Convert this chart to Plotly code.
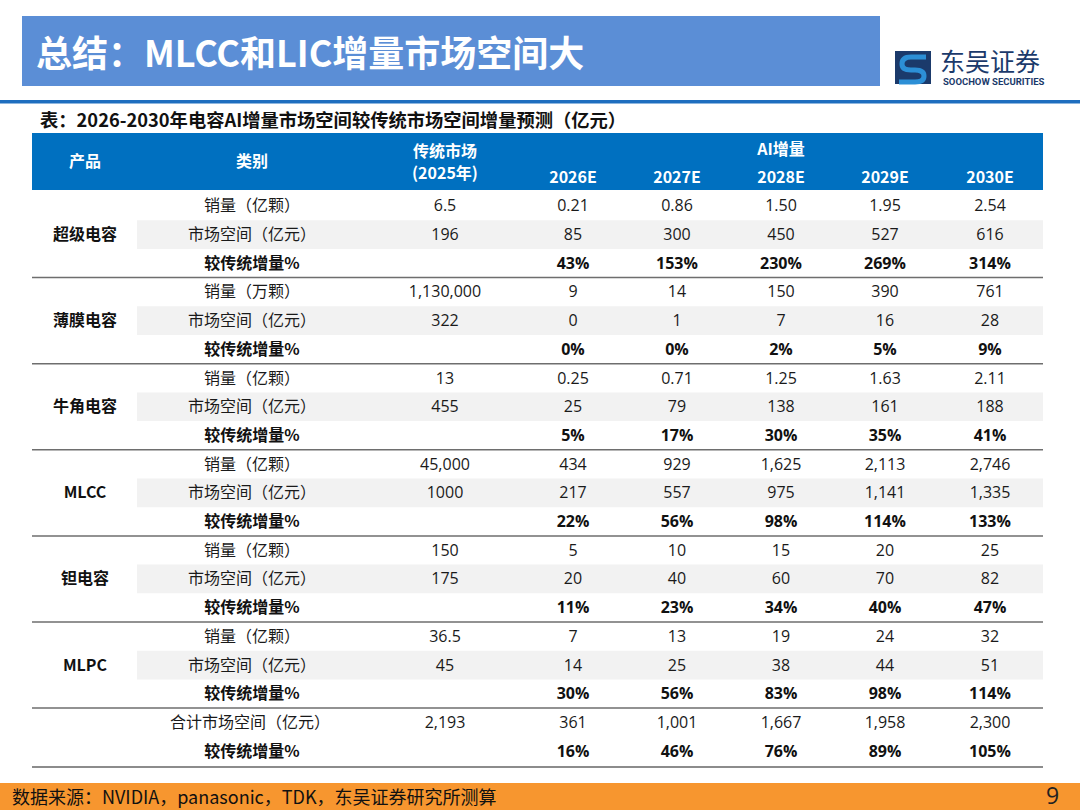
import plotly.graph_objects as go

# 表格数据
products = ['超级电容', '薄膜电容', '牛角电容', 'MLCC', '钽电容', 'MLPC']
volume_units = ['亿颗', '万颗', '亿颗', '亿颗', '亿颗', '亿颗']
base_volume = ['6.5', '1,130,000', '13', '45,000', '150', '36.5']
base_market = ['196', '322', '455', '1000', '175', '45']
years = ['2026E', '2027E', '2028E', '2029E', '2030E']

ai_volume = [
    [0.21, 0.86, 1.50, 1.95, 2.54],
    [9, 14, 150, 390, 761],
    [0.25, 0.71, 1.25, 1.63, 2.11],
    [434, 929, 1625, 2113, 2746],
    [5, 10, 15, 20, 25],
    [7, 13, 19, 24, 32],
]
ai_market = [
    [85, 300, 450, 527, 616],
    [0, 1, 7, 16, 28],
    [25, 79, 138, 161, 188],
    [217, 557, 975, 1141, 1335],
    [20, 40, 60, 70, 82],
    [14, 25, 38, 44, 51],
]
growth_pct = [
    [43, 153, 230, 269, 314],
    [0, 0, 2, 5, 9],
    [5, 17, 30, 35, 41],
    [22, 56, 98, 114, 133],
    [11, 23, 34, 40, 47],
    [30, 56, 83, 98, 114],
]
total_base = '2,193'
total_ai = [361, 1001, 1667, 1958, 2300]
total_growth = [16, 46, 76, 89, 105]

# layout helpers
W, H = 1080, 810
col_x = [85, 252, 445, 573, 677, 781, 885, 990]
tbl_left, tbl_right = 32, 1043
row_top, row_h = 191.5, 28.7
HEAD_BLUE = '#0070C0'
CJK = 'Noto Sans CJK SC'
NUM = 'Open Sans, Noto Sans CJK SC'


def row_y(i):
    return row_top + row_h * (i + 0.5)


def text_y(i):
    # text baseline sits a touch high in plotly, nudge down
    return row_y(i) + 1.5


fig = go.Figure()
shapes = []

# title bar, top rule, footer
shapes.append(dict(type='rect', x0=22, x1=880, y0=16, y1=86, fillcolor='#5B8ED6', line_width=0, layer='below'))
shapes.append(dict(type='rect', x0=0, x1=W, y0=100, y1=103.5, fillcolor='#1F6EBF', line_width=0, layer='below'))
shapes.append(dict(type='rect', x0=0, x1=W, y0=783, y1=H, fillcolor='#F7962F', line_width=0, layer='below'))
shapes.append(dict(type='rect', x0=tbl_left, x1=tbl_right, y0=133, y1=190, fillcolor=HEAD_BLUE, line_width=0, layer='below'))

# logo
shapes.append(dict(type='rect', x0=895, x1=931, y0=51, y1=84, fillcolor='#1B3A6B', line_width=0))
shapes.append(dict(type='path', path='M 926 57 L 911 57 Q 902 57 902 64 Q 902 70 911 70 L 915 70 Q 924 70 924 76 Q 924 82 915 82 L 899 82',
                   line=dict(color='#2C8FD6', width=5), fillcolor='rgba(0,0,0,0)'))

# rows: shaded market rows and group separators
n_rows = len(products) * 3 + 2
for g in range(len(products)):
    i = g * 3 + 1
    shapes.append(dict(type='rect', x0=137, x1=tbl_right, y0=row_y(i) - row_h / 2, y1=row_y(i) + row_h / 2,
                       fillcolor='#F2F2F2', line_width=0, layer='below'))
for g in range(1, len(products) + 1):
    yy = row_top + row_h * 3 * g
    shapes.append(dict(type='line', x0=tbl_left, x1=tbl_right, y0=yy, y1=yy, line=dict(color='#6E6E6E', width=1.5)))
yy = row_top + row_h * n_rows + 1.5
shapes.append(dict(type='line', x0=tbl_left, x1=tbl_right, y0=yy, y1=yy, line=dict(color='#8C8C8C', width=2)))

# collect cell texts
reg_x, reg_y, reg_t = [], [], []
num_x, num_y, num_t = [], [], []
bold_x, bold_y, bold_t = [], [], []
bnum_x, bnum_y, bnum_t = [], [], []

for g, name in enumerate(products):
    r0 = g * 3
    bold_x.append(col_x[0]); bold_y.append(text_y(r0 + 1)); bold_t.append(name)
    reg_x += [col_x[1], col_x[1]]
    reg_y += [text_y(r0), text_y(r0 + 1)]
    reg_t += [f'销量（{volume_units[g]}）', '市场空间（亿元）']
    bold_x.append(col_x[1]); bold_y.append(text_y(r0 + 2)); bold_t.append('较传统增量%')
    num_x += [col_x[2], col_x[2]]
    num_y += [text_y(r0), text_y(r0 + 1)]
    num_t += [base_volume[g], base_market[g]]
    decimals = any(isinstance(v, float) and v < 10 for v in ai_volume[g])
    for k in range(5):
        v = ai_volume[g][k]
        num_x.append(col_x[3 + k]); num_y.append(text_y(r0))
        num_t.append(f'{v:.2f}' if decimals else f'{int(v):,}')
        num_x.append(col_x[3 + k]); num_y.append(text_y(r0 + 1))
        num_t.append(f'{ai_market[g][k]:,}')
        bnum_x.append(col_x[3 + k]); bnum_y.append(text_y(r0 + 2))
        bnum_t.append(f'{growth_pct[g][k]}%')

r0 = len(products) * 3
reg_x.append(col_x[1] - 2); reg_y.append(text_y(r0)); reg_t.append('合计市场空间（亿元）')
bold_x.append(col_x[1]); bold_y.append(text_y(r0 + 1)); bold_t.append('较传统增量%')
num_x.append(col_x[2]); num_y.append(text_y(r0)); num_t.append(total_base)
for k in range(5):
    num_x.append(col_x[3 + k]); num_y.append(text_y(r0)); num_t.append(f'{total_ai[k]:,}')
    bnum_x.append(col_x[3 + k]); bnum_y.append(text_y(r0 + 1)); bnum_t.append(f'{total_growth[k]}%')

fig.add_trace(go.Scatter(x=reg_x, y=reg_y, text=reg_t, mode='text',
                         textfont=dict(family=CJK, size=16, color='#1A1A1A')))
fig.add_trace(go.Scatter(x=num_x, y=num_y, text=num_t, mode='text',
                         textfont=dict(family=NUM, size=16, color='#1A1A1A')))
fig.add_trace(go.Scatter(x=bold_x, y=bold_y, text=bold_t, mode='text',
                         textfont=dict(family=CJK, size=16, color='#111111', weight='bold')))
fig.add_trace(go.Scatter(x=bnum_x, y=bnum_y, text=bnum_t, mode='text',
                         textfont=dict(family=NUM, size=16, color='#111111', weight='bold')))

# header texts
head_x = [col_x[0], col_x[1], col_x[2], col_x[2], col_x[5]] + col_x[3:]
head_y = [163, 163, 153, 175, 151] + [179] * 5
head_t = ['产品', '类别', '传统市场', '(2025年)', 'AI增量'] + years
fig.add_trace(go.Scatter(x=head_x, y=head_y, text=head_t, mode='text',
                         textfont=dict(family=CJK, size=16, color='white', weight='bold')))

annos = [
    dict(x=34, y=51, text='<b>总结：MLCC和LIC增量市场空间大</b>', xanchor='left', yanchor='middle',
         font=dict(family=CJK, size=36, color='white')),
    dict(x=38, y=119, text='<b>表：2026-2030年电容AI增量市场空间较传统市场空间增量预测（亿元）</b>', xanchor='left', yanchor='middle',
         font=dict(family=CJK, size=18.3, color='#111111')),
    dict(x=10, y=796, text='数据来源：NVIDIA，panasonic，TDK，东吴证券研究所测算', xanchor='left', yanchor='middle',
         font=dict(family=CJK, size=18, color='#111111')),
    dict(x=1052, y=795, text='9', xanchor='center', yanchor='middle',
         font=dict(family=NUM, size=23, color='#222222')),
    dict(x=938, y=60, text='东吴证券', xanchor='left', yanchor='middle',
         font=dict(family=CJK, size=25, color='#1B3A6B')),
    dict(x=941, y=81.5, text='<b>SOOCHOW SECURITIES</b>', xanchor='left', yanchor='middle',
         font=dict(family='Roboto', size=9.5, color='#1B3A6B')),
]
for a in annos:
    a.update(xref='x', yref='y', showarrow=False)

fig.update_layout(
    width=W, height=H, margin=dict(l=0, r=0, t=0, b=0),
    paper_bgcolor='white', plot_bgcolor='white',
    showlegend=False, shapes=shapes, annotations=annos,
    xaxis=dict(range=[0, W], visible=False, fixedrange=True),
    yaxis=dict(range=[H, 0], visible=False, fixedrange=True),
)

fig.write_html('out.html', config={'displayModeBar': False},
               post_script="document.body.style.margin='0';")
